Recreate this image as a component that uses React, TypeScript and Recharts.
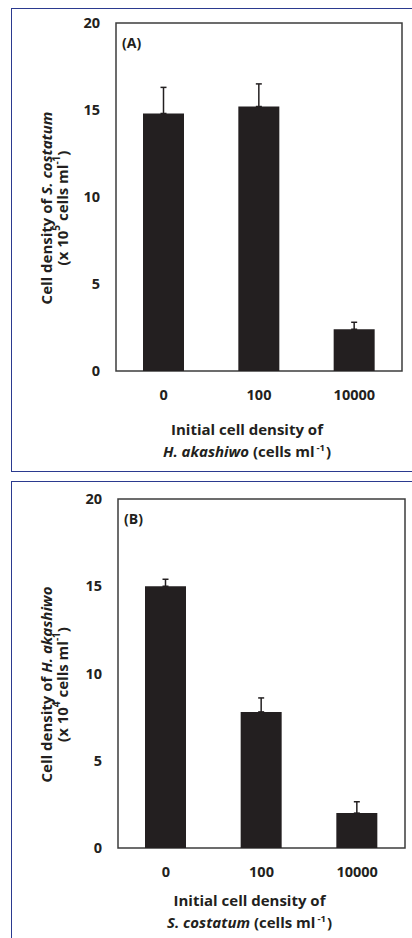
import React from 'react';
import { BarChart, Bar, XAxis, YAxis, ErrorBar, ReferenceArea } from 'recharts';

const categories = ['0', '100', '10000'];
const valuesA = [14.8, 15.2, 2.4];
const errorsA = [1.5, 1.3, 0.4];
const valuesB = [15.0, 7.8, 2.0];
const errorsB = [0.4, 0.8, 0.65];
const yTicks = [0, 5, 10, 15, 20];

const INK = '#231f20';
const FONT = "'Open Sans', 'Noto Sans', sans-serif";

const YTitle = (props: any) => {
  const { viewBox, species, power, shift } = props;
  const cy = viewBox.y + viewBox.height / 2 + 11;
  const x1 = viewBox.x + 30 + shift;
  const x2 = viewBox.x + 46 + shift;
  return (
    <g fill={INK} fontFamily={FONT} fontWeight={700} fontSize={15}>
      <text x={x1} y={cy} transform={`rotate(-90 ${x1} ${cy})`} textAnchor="middle" dominantBaseline="central">
        <tspan>Cell density of </tspan>
        <tspan fontStyle="italic">{species}</tspan>
      </text>
      <text x={x2} y={cy} transform={`rotate(-90 ${x2} ${cy})`} textAnchor="middle" dominantBaseline="central">
        <tspan>(x 10</tspan>
        <tspan dy={-6} fontSize={10}>{power}</tspan>
        <tspan dy={6}> cells ml</tspan>
        <tspan dy={-6} fontSize={10}>-1</tspan>
        <tspan dy={6}>)</tspan>
      </text>
    </g>
  );
};

const XTitle = (props: any) => {
  const { viewBox, species, y1, y2 } = props;
  const cx = viewBox.x + viewBox.width / 2 - 12;
  return (
    <g fill={INK} fontFamily={FONT} fontWeight={700} fontSize={15}>
      <text x={cx} y={viewBox.y + y1} textAnchor="middle" dominantBaseline="central">
        Initial cell density of
      </text>
      <text x={cx} y={viewBox.y + y2} textAnchor="middle" dominantBaseline="central">
        <tspan fontStyle="italic">{species}</tspan>
        <tspan> (cells ml</tspan>
        <tspan dy={-4.5} dx={2} fontSize={9.5}>-1</tspan>
        <tspan dy={4.5} dx={1}>)</tspan>
      </text>
    </g>
  );
};

const Tag = (props: any) => {
  const { viewBox, text } = props;
  return (
    <text x={viewBox.x + 6} y={viewBox.y + 19} fill={INK} fontFamily={FONT} fontWeight={700}
      fontSize={14} dominantBaseline="central">
      {text}
    </text>
  );
};

interface PanelProps {
  values: number[];
  errors: number[];
  tag: string;
  ySpecies: string;
  power: string;
  xSpecies: string;
  height: number;
  margin: { top: number; right: number; bottom: number; left: number };
  y1: number;
  y2: number;
  shift: number;
}

const Panel = ({ values, errors, tag, ySpecies, power, xSpecies, height, margin, y1, y2, shift }: PanelProps) => {
  const data = categories.map((c, i) => ({ name: c, value: values[i], err: [0, errors[i]] }));
  return (
    <BarChart width={412} height={height} data={data} margin={margin}>
      <XAxis
        dataKey="name"
        height={40}
        axisLine={false}
        tickLine={false}
        tickSize={0}
        tickMargin={19}
        tick={{ fill: INK, fontSize: 14.5, fontWeight: 700, fontFamily: FONT }}
        label={<XTitle species={xSpecies} y1={y1} y2={y2} />}
      />
      <YAxis
        width={100}
        domain={[0, 20]}
        ticks={yTicks}
        interval={0}
        axisLine={false}
        tickLine={false}
        tickSize={0}
        tickMargin={16}
        tick={{ fill: INK, fontSize: 14.5, fontWeight: 700, fontFamily: FONT }}
        label={<YTitle species={ySpecies} power={power} shift={shift} />}
      />
      <Bar dataKey="value" fill={INK} barSize={41} isAnimationActive={false}>
        <ErrorBar dataKey="err" direction="y" width={3} strokeWidth={1.5} stroke={INK} />
      </Bar>
      <ReferenceArea
        x1={categories[0]}
        x2={categories[categories.length - 1]}
        y1={0}
        y2={20}
        fill="none"
        stroke="#3c3c3c"
        strokeWidth={1.5}
        ifOverflow="visible"
        label={<Tag text={tag} />}
      />
    </BarChart>
  );
};

const boxStyle: React.CSSProperties = {
  position: 'absolute',
  left: 11,
  width: 430,
  borderLeft: '1px solid #2b3a8f',
  borderTop: '1px solid #2b3a8f',
  borderBottom: '1px solid #2b3a8f',
  boxSizing: 'border-box',
};

export default function App() {
  return (
    <div style={{ position: 'absolute', left: 0, top: 0, width: 412, height: 938, overflow: 'hidden', background: '#fff' }}>
      <div style={{ ...boxStyle, top: 8, height: 464 }} />
      <div style={{ ...boxStyle, top: 481, height: 520 }} />
      <div style={{ position: 'absolute', left: 0, top: 0 }}>
        <Panel
          values={valuesA}
          errors={errorsA}
          tag="(A)"
          ySpecies="S. costatum"
          power="5"
          xSpecies="H. akashiwo"
          height={470}
          margin={{ top: 23, right: 10, bottom: 59, left: 16 }}
          y1={58}
          y2={80}
          shift={0}
        />
      </div>
      <div style={{ position: 'absolute', left: 0, top: 476 }}>
        <Panel
          values={valuesB}
          errors={errorsB}
          tag="(B)"
          ySpecies="H. akashiwo"
          power="4"
          xSpecies="S. costatum"
          height={462}
          margin={{ top: 23, right: 7, bottom: 50, left: 18 }}
          y1={52}
          y2={74}
          shift={-2}
        />
      </div>
    </div>
  );
}
